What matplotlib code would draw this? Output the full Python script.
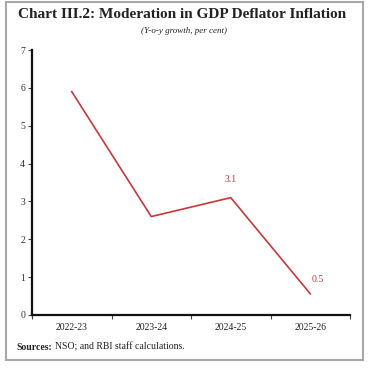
import matplotlib
matplotlib.use("Agg")
import matplotlib.pyplot as plt
from matplotlib.patches import Rectangle

categories = ["2022-23", "2023-24", "2024-25", "2025-26"]
values = [5.9, 2.6, 3.1, 0.56]
point_labels = [None, None, "3.1", "0.5"]
yticks = [0, 1, 2, 3, 4, 5, 6, 7]

W, H = 369, 368
fig = plt.figure(figsize=(W / 100, H / 100), dpi=100)
plt.rcParams['font.family'] = ['Liberation Serif', 'DejaVu Serif']

# frame
fig.patches.append(Rectangle((6 / W, 1 - 360 / H), 357 / W, 358 / H, transform=fig.transFigure,
                             fill=False, edgecolor="#a8a8a8", linewidth=1.5))

ax = fig.add_axes([32 / W, 1 - 315 / H, 318 / W, 265 / H])
x = list(range(len(categories)))
ax.plot(x, values, color="#c8383a", linewidth=1.2)
ax.set_xlim(-0.5, len(categories) - 0.5)
ax.set_ylim(0, 7)
ax.set_yticks(yticks)
ax.set_yticklabels([str(t) for t in yticks], fontsize=7, color="#333333")
ax.set_xticks([i - 0.5 for i in range(len(categories) + 1)])
ax.set_xticklabels([])
ax.set_xticks(x, minor=True)
ax.set_xticklabels(categories, minor=True, fontsize=7, color="#222222")
ax.tick_params(axis='x', which='minor', length=0, pad=6)
ax.tick_params(axis='x', which='major', length=3, width=0.8, color="#444444")
ax.tick_params(axis='y', length=3, width=0.8, color="#444444", pad=2)
for s in ["top", "right"]:
    ax.spines[s].set_visible(False)
for s in ["left", "bottom"]:
    ax.spines[s].set_linewidth(1.6)
    ax.spines[s].set_color("#111111")

for i, (v, lab) in enumerate(zip(values, point_labels)):
    if lab:
        dx = 0 if i < len(values) - 1 else 8
        dy = 14 if i < len(values) - 1 else 10
        ax.annotate(lab, (i, v), xytext=(dx, dy), textcoords="offset pixels",
                    ha="center", va="bottom", fontsize=7, color="#c8383a")

fig.text(182 / W, 1 - 14 / H, "Chart III.2: Moderation in GDP Deflator Inflation", ha="center", va="center",
         fontsize=11, fontweight="bold", color="#222222")
fig.text(184 / W, 1 - 31 / H, "(Y-o-y growth, per cent)", ha="center", va="center",
         fontsize=6.5, style="italic", color="#222222")
fig.text(16 / W, 1 - 347 / H, "Sources:", ha="left", va="center", fontsize=7, fontweight="bold", color="#222222")
fig.text(55 / W, 1 - 347 / H, "NSO; and RBI staff calculations.", ha="left", va="center", fontsize=7, color="#222222")

fig.savefig("out.png", dpi=100)
